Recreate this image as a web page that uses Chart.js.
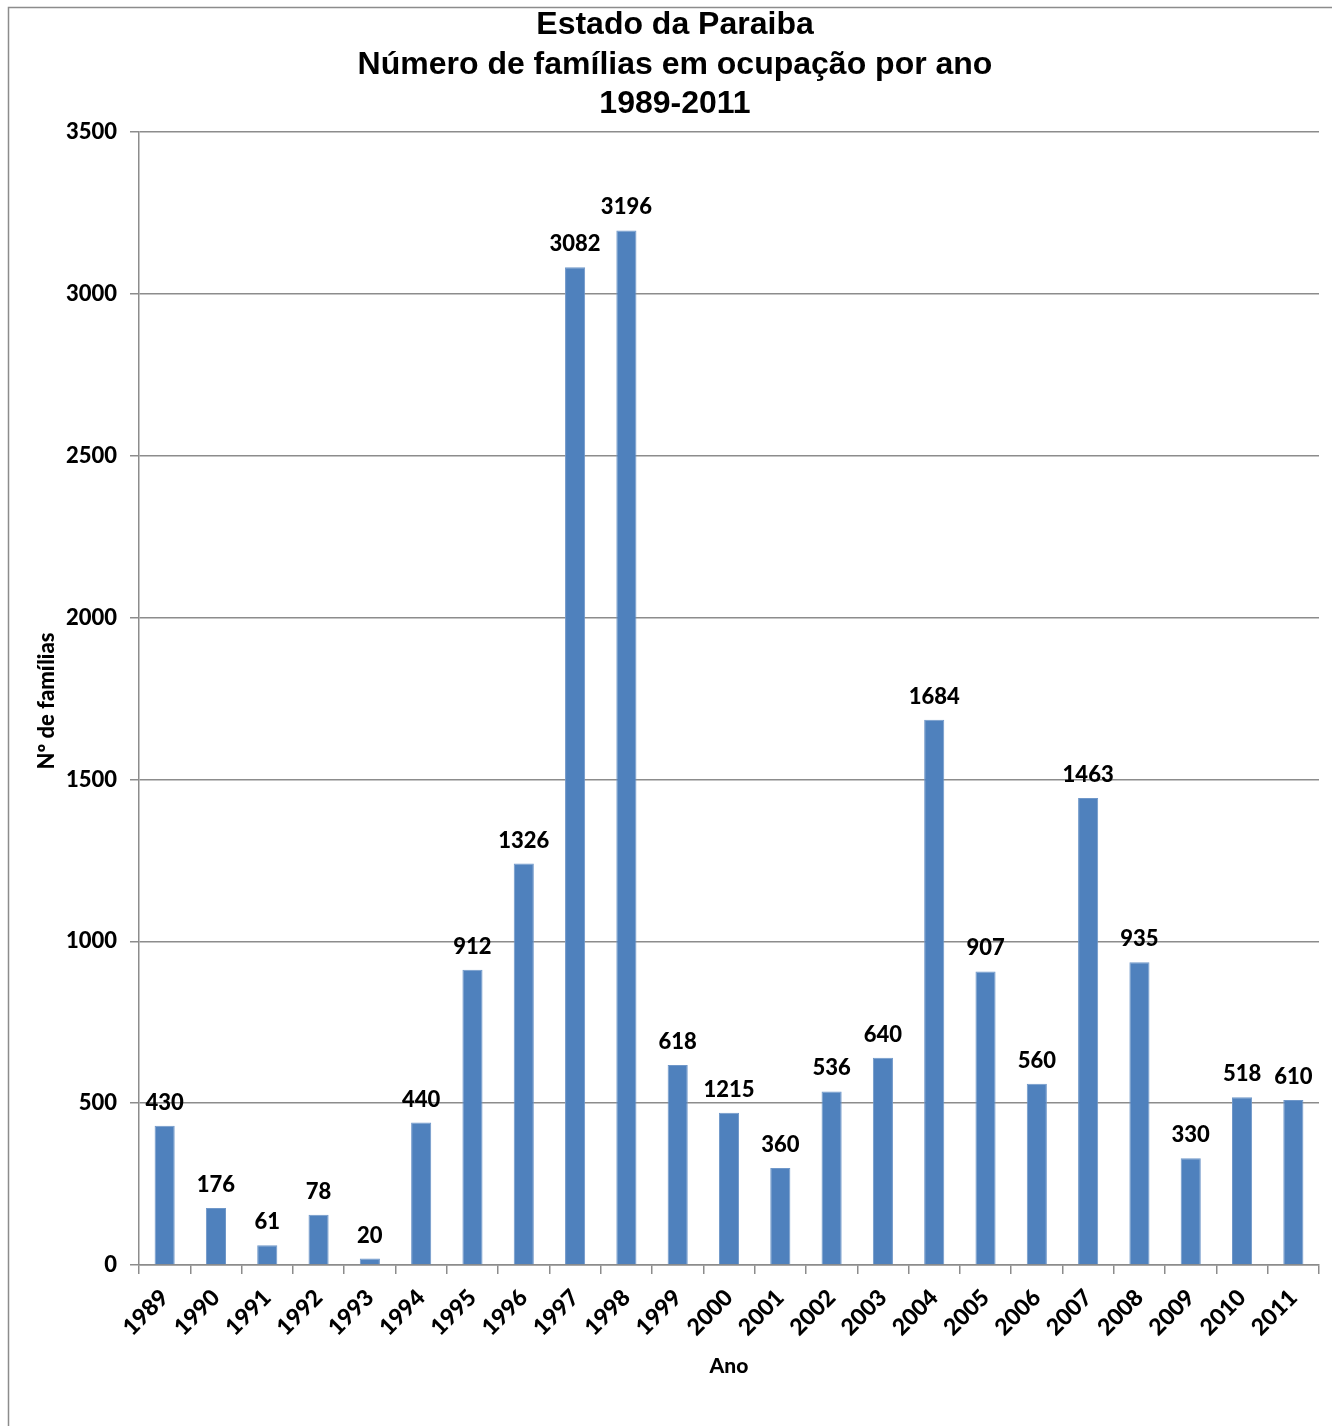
<!DOCTYPE html>
<html><head><meta charset="utf-8">
<script src="https://cdn.jsdelivr.net/npm/chart.js@4/dist/chart.umd.min.js"></script>
<style>html,body{margin:0;padding:0;background:#fff}#wrap{width:1332px;height:1426px;position:relative}</style>
</head><body><div id="wrap"><canvas id="c" width="1332" height="1426"></canvas></div>
<script>
const years = ['1989','1990','1991','1992','1993','1994','1995','1996','1997','1998','1999','2000','2001','2002','2003','2004','2005','2006','2007','2008','2009','2010','2011'];
const barValues = [430,176,61,155,20,440,912,1240,3082,3196,618,470,300,536,640,1684,907,560,1443,935,330,518,510];
const labelTexts = ['430','176','61','78','20','440','912','1326','3082','3196','618','1215','360','536','640','1684','907','560','1463','935','330','518','610'];
const titleLines = ['Estado da Paraiba','Número de famílias em ocupação por ano','1989-2011'];
const yTitle = 'Nº de famílias';
const xTitle = 'Ano';

const FONT = 'Lato, "Open Sans", sans-serif';
const W = '900';
const deco = {
  id:'deco',
  beforeDraw(chart){
    const ctx = chart.ctx;
    ctx.save();
    ctx.fillStyle='#fff'; ctx.fillRect(0,0,chart.width,chart.height);
    ctx.strokeStyle='#8c8c8c'; ctx.lineWidth=1.5;
    ctx.beginPath(); ctx.moveTo(8.5,1426); ctx.lineTo(8.5,7.5); ctx.lineTo(1332,7.5); ctx.stroke();
    ctx.restore();
  },
  afterDraw(chart){
    const ctx = chart.ctx;
    ctx.save();
    ctx.fillStyle='#000';
    ctx.textAlign='center'; ctx.textBaseline='middle';
    ctx.font='bold 32px "Liberation Sans", Arial, sans-serif';
    const tys=[25,65,104];
    titleLines.forEach((t,i)=>ctx.fillText(t,675,tys[i]));
    ctx.font=W+' 22px '+FONT;
    ctx.textBaseline='alphabetic';
    const meta = chart.getDatasetMeta(0);
    meta.data.forEach((bar,i)=>{
      ctx.fillText(labelTexts[i], bar.x, bar.y-16);
    });
    ctx.font=W+' 21px '+FONT;
    ctx.textBaseline='middle';
    ctx.fillText(xTitle, 729, 1366);
    ctx.font=W+' 22px '+FONT;
    ctx.translate(47,701); ctx.rotate(-Math.PI/2);
    ctx.fillText(yTitle,0,0);
    ctx.restore();
  }
};

new Chart(document.getElementById('c'),{
  type:'bar',
  data:{labels:years,datasets:[{data:barValues,backgroundColor:'#4F81BD',borderColor:'#6f97c9',borderWidth:1,barPercentage:0.8,categoryPercentage:0.49}]},
  options:{
    responsive:false,animation:false,
    layout:{padding:{top:132,right:13,left:0,bottom:0}},
    plugins:{legend:{display:false},tooltip:{enabled:false},title:{display:false}},
    scales:{
      x:{
        grid:{display:true,drawOnChartArea:false,drawTicks:true,tickLength:9,color:'#8c8c8c',lineWidth:1.5,offset:true},
        border:{display:true,color:'#8c8c8c',width:1.5},
        ticks:{color:'#000',font:{family:FONT,weight:W,size:23},maxRotation:45,minRotation:45,padding:10,autoSkip:false},
        afterFit(s){s.height=161;}
      },
      y:{
        min:0,max:3500,
        grid:{color:'#8c8c8c',lineWidth:1.5,tickLength:9},
        border:{display:true,color:'#8c8c8c',width:1.5},
        ticks:{stepSize:500,color:'#000',font:{family:FONT,weight:W,size:22},padding:13,callback:v=>String(v)},
        afterFit(s){s.width=139;}
      }
    }
  },
  plugins:[deco]
});
</script></body></html>
